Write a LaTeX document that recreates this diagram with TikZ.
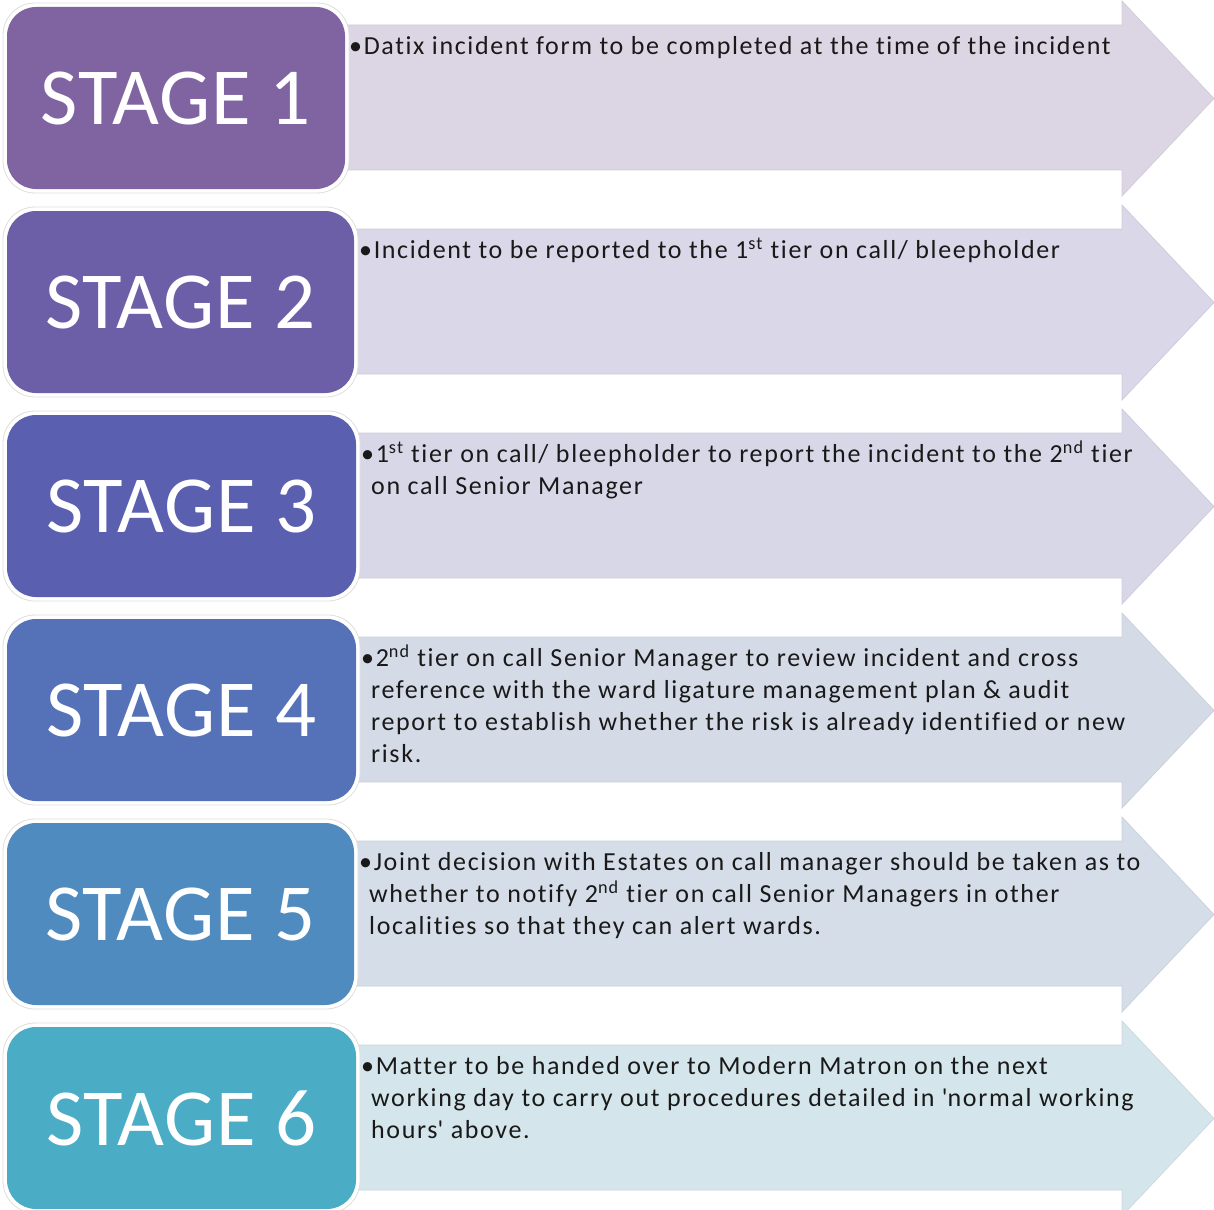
\documentclass[tikz,border=0pt]{standalone}
\usepackage{fontspec}
\setmainfont[Ligatures={NoCommon,NoContextual}]{Carlito}
\newfontfamily\bodyfont[Ligatures={NoCommon,NoContextual},LetterSpace=6.3]{Carlito}
\newfontfamily\stagefont[Ligatures={NoCommon,NoContextual},LetterSpace=1]{Carlito}
\definecolor{boxA}{HTML}{8064A2}
\definecolor{boxB}{HTML}{6C5FA8}
\definecolor{boxC}{HTML}{5A5FB0}
\definecolor{boxD}{HTML}{5572B8}
\definecolor{boxE}{HTML}{4F8BBF}
\definecolor{boxF}{HTML}{4BACC6}
\definecolor{arrA}{HTML}{DCD6E4}
\definecolor{arrB}{HTML}{D9D7E8}
\definecolor{arrC}{HTML}{D7D7E8}
\definecolor{arrD}{HTML}{D5DAE7}
\definecolor{arrE}{HTML}{D4DDE8}
\definecolor{arrF}{HTML}{D4E5EB}
\newcommand\hangsp{\hspace*{10pt}}
\begin{document}
\begin{tikzpicture}[x=1pt,y=-1pt,
  halo/.style={fill=white,draw=black!13,line width=0.8pt,rounded corners=32pt},
  stagebox/.style={rounded corners=29pt,draw=none,text=white,
    font=\stagefont\fontsize{81}{90}\selectfont,inner sep=0pt},
  desc/.style={anchor=north west,align=left,inner sep=0pt,text=black!90,
    font=\bodyfont\fontsize{26}{32}\selectfont}]
\useasboundingbox (0,0) rectangle (1214,1209);
\clip (0,0) rectangle (1214,1209);

% block arrows behind the stage boxes
\foreach \k/\ac in {0/arrA,1/arrB,2/arrC,3/arrD,4/arrE,5/arrF}{
  \pgfmathsetmacro\o{204*\k}
  \path[fill=\ac,draw=\ac!88!gray,line width=0.7pt,line join=miter]
    (330,25+\o) -- (1122,25+\o) -- (1122,1+\o) -- (1214,98.5+\o)
    -- (1122,196+\o) -- (1122,170+\o) -- (330,170+\o) -- cycle;
}

% stage boxes with a white rim
\foreach \k/\r in {0/345,1/354,2/356,3/356,4/354,5/356}{
  \pgfmathsetmacro\o{204*\k}
  \path[halo] (3,3+\o) rectangle (\r+4,193+\o);
}
\node[stagebox,fill=boxA,minimum width=338pt,minimum height=182pt] (s1) at (176,98) {STAGE 1};
\node[stagebox,fill=boxB,minimum width=347pt,minimum height=182pt] (s2) at (180.5,302) {STAGE 2};
\node[stagebox,fill=boxC,minimum width=349pt,minimum height=182pt] (s3) at (181.5,506) {STAGE 3};
\node[stagebox,fill=boxD,minimum width=349pt,minimum height=182pt] (s4) at (181.5,710) {STAGE 4};
\node[stagebox,fill=boxE,minimum width=347pt,minimum height=182pt] (s5) at (180.5,914) {STAGE 5};
\node[stagebox,fill=boxF,minimum width=349pt,minimum height=182pt] (s6) at (181.5,1118) {STAGE 6};

% descriptions
\node[desc] (t1) at (349,31.6) {\strut•Datix incident form to be completed at the time of the incident};
\node[desc] (t2) at (359,235.6) {\strut•Incident to be reported to the 1\textsuperscript{st} tier on call/ bleepholder};
\node[desc] (t3) at (361,439.6) {\strut•1\textsuperscript{st} tier on call/ bleepholder to report the incident to the 2\textsuperscript{nd} tier\\
  \hangsp on call Senior Manager};
\node[desc] (t4) at (361,643.6) {\strut•2\textsuperscript{nd} tier on call Senior Manager to review incident and cross\\
  \hangsp reference with the ward ligature management plan \& audit\\
  \hangsp report to establish whether the risk is already identified or new\\
  \hangsp risk.};
\node[desc] (t5) at (359,847.6) {\strut•Joint decision with Estates on call manager should be taken as to\\
  \hangsp whether to notify 2\textsuperscript{nd} tier on call Senior Managers in other\\
  \hangsp localities so that they can alert wards.};
\node[desc] (t6) at (361,1051.6) {\strut•Matter to be handed over to Modern Matron on the next\\
  \hangsp working day to carry out procedures detailed in \textquotesingle normal working\\
  \hangsp hours\textquotesingle{} above.};
\end{tikzpicture}
\end{document}
